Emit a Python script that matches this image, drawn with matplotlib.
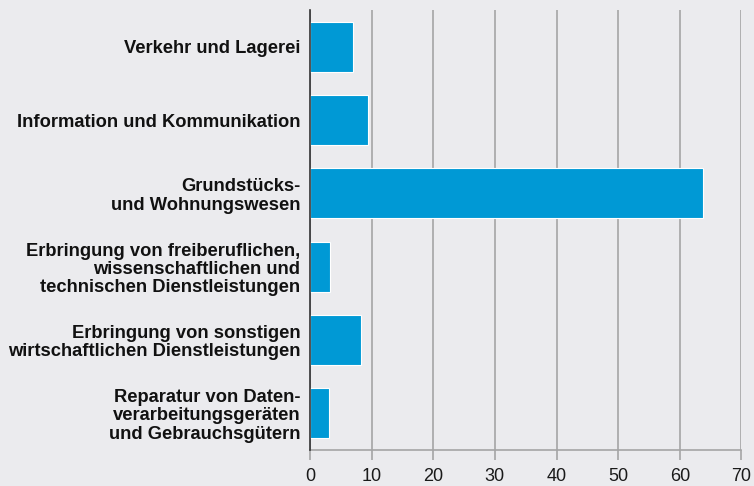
import matplotlib
matplotlib.use('Agg')
import matplotlib.pyplot as plt

# Data
categories = [
    'Verkehr und Lagerei',
    'Information und Kommunikation',
    'Grundstücks-\nund Wohnungswesen',
    'Erbringung von freiberuflichen,\nwissenschaftlichen und\ntechnischen Dienstleistungen',
    'Erbringung von sonstigen\nwirtschaftlichen Dienstleistungen',
    'Reparatur von Daten-\nverarbeitungsgeräten\nund Gebrauchsgütern',
]
values = [7.0, 9.45, 63.7, 3.3, 8.3, 3.1]
xticks = [0, 10, 20, 30, 40, 50, 60, 70]

bg = '#EBEBEE'
bar_color = '#0099D5'
grid_color = '#A5A5A5'

plt.rcParams['font.family'] = ['Liberation Sans', 'DejaVu Sans']

fig = plt.figure(figsize=(7.54, 4.86), dpi=100, facecolor=bg)
ax = fig.add_axes([0.4111, 0.0741, 0.5722, 0.9053], facecolor=bg)

pos = list(range(len(categories)))
ax.barh(pos, values, height=0.68, color=bar_color, edgecolor='white', linewidth=0.8, zorder=3)

ax.set_ylim(len(categories) - 0.5, -0.5)
ax.set_xlim(0, 70)
ax.set_xticks(xticks)
ax.set_xticklabels([str(t) for t in xticks], fontsize=13, color='#1a1a1a')
ax.set_yticks(pos)
ax.set_yticklabels(categories, fontsize=13.2, fontweight='bold', color='#111111', linespacing=1.1)

ax.grid(axis='x', color=grid_color, linewidth=1.2, zorder=0)
ax.tick_params(axis='y', length=0, pad=7)
ax.tick_params(axis='x', length=7, width=1.2, color=grid_color, pad=6)

for s in ['top', 'right']:
    ax.spines[s].set_visible(False)
ax.spines['bottom'].set_color(grid_color)
ax.spines['bottom'].set_linewidth(1.2)
ax.spines['left'].set_color('#333333')
ax.spines['left'].set_linewidth(1.2)
ax.spines['left'].set_zorder(4)

plt.savefig('out.png', dpi=100, facecolor=bg)
